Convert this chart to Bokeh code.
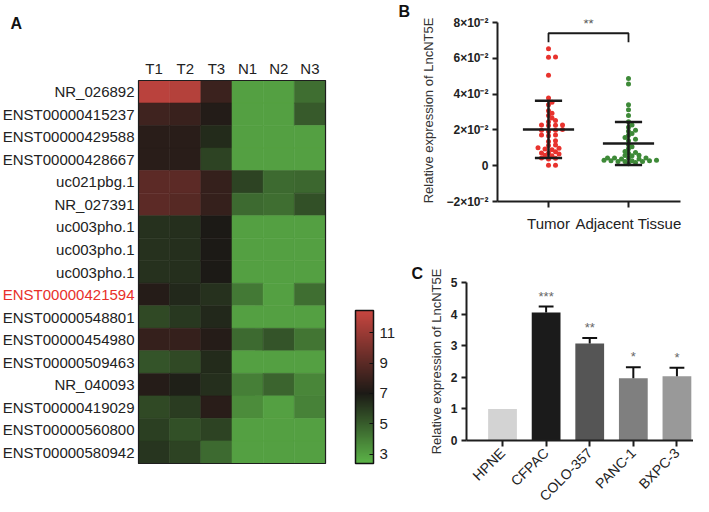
import numpy as np
from bokeh.plotting import figure
from bokeh.models import (Range1d, FixedTicker, LinearColorMapper, ColorBar, Label, ColumnDataSource)
from bokeh.layouts import row, column
from bokeh.embed import file_html
from bokeh.resources import INLINE
from bokeh.core.properties import value

FONT = "Liberation Sans"

# ---------------- Data: panel A (heatmap) ----------------
genes = ["NR_026892", "ENST00000415237", "ENST00000429588", "ENST00000428667",
         "uc021pbg.1", "NR_027391", "uc003pho.1", "uc003pho.1", "uc003pho.1",
         "ENST00000421594", "ENST00000548801", "ENST00000454980", "ENST00000509463",
         "NR_040093", "ENST00000419029", "ENST00000560800", "ENST00000580942"]
highlight_gene = "ENST00000421594"
samples = ["T1", "T2", "T3", "N1", "N2", "N3"]
t1 = [12.0, 8.1, 7.4, 7.4, 9.0, 9.0, 6.3, 6.3, 6.3, 7.3, 5.6, 7.8, 5.3, 7.3, 5.6, 5.9, 6.2]
t2 = [11.8, 7.9, 7.4, 7.4, 9.0, 8.8, 6.4, 6.4, 6.4, 6.6, 6.1, 7.8, 5.6, 6.8, 6.0, 5.4, 5.8]
t3 = [8.0, 7.2, 6.5, 5.8, 7.8, 7.8, 7.0, 7.0, 7.0, 6.3, 6.6, 7.3, 6.5, 6.4, 7.4, 5.8, 4.6]
n1 = [3.0, 3.0, 3.0, 3.0, 5.8, 4.6, 3.0, 3.0, 3.0, 4.2, 3.0, 4.6, 3.0, 4.0, 3.6, 3.0, 3.0]
n2 = [3.0, 3.0, 3.0, 3.0, 4.6, 4.5, 3.0, 3.0, 3.0, 3.0, 3.0, 5.3, 3.0, 4.8, 3.0, 3.0, 3.0]
n3 = [4.5, 5.1, 3.0, 3.0, 4.7, 5.4, 3.0, 3.0, 3.0, 4.5, 3.0, 4.3, 3.0, 3.8, 3.9, 3.0, 3.0]
cbar_ticks = [3, 5, 7, 9, 11]

# ---------------- Data: panel B (scatter) ----------------
groups_b = ["Tumor", "Adjacent Tissue"]
tumor = [0.0654, 0.0606, 0.0607, 0.0506, 0.0378, 0.0354, 0.0341, 0.0307, 0.0293,
         0.0280, 0.0267, 0.0246, 0.0252, 0.0226, 0.0228, 0.0224, 0.0228, 0.0198,
         0.0191, 0.0198, 0.0202, 0.0171, 0.0172, 0.0167, 0.0139, 0.0135, 0.0115,
         0.0113, 0.0100, 0.0093, 0.0098, 0.0089, 0.0078, 0.0071, 0.0071, 0.0065,
         0.0059, 0.0056, 0.0043, 0.0041, 0.0037, 0.0002, 0.0002]
adjacent = [0.0487, 0.0456, 0.0341, 0.0313, 0.0280, 0.0246, 0.0228, 0.0215, 0.0198,
            0.0193, 0.0180, 0.0170, 0.0157, 0.0148, 0.0139, 0.0117, 0.0106, 0.0094,
            0.0080, 0.0069, 0.0074, 0.0056, 0.0057, 0.0059, 0.0043, 0.0043, 0.0043,
            0.0043, 0.0037, 0.0037, 0.0028, 0.0028, 0.0031, 0.0031, 0.0028, 0.0024,
            0.0024, 0.0024, 0.0018, 0.0011]
b_ticks = [-0.02, 0.0, 0.02, 0.04, 0.06, 0.08]
b_tick_labels = ["\u22122\u00d710\u207b\u00b2", "0", "2\u00d710\u207b\u00b2",
                 "4\u00d710\u207b\u00b2", "6\u00d710\u207b\u00b2", "8\u00d710\u207b\u00b2"]
b_sig = "**"

# ---------------- Data: panel C (bars) ----------------
cells = ["HPNE", "CFPAC", "COLO-357", "PANC-1", "BXPC-3"]
expr = [1.0, 4.05, 3.07, 1.97, 2.03]
expr_err = [0.0, 0.19, 0.17, 0.35, 0.27]
stars = ["", "***", "**", "*", "*"]
c_ticks = [0, 1, 2, 3, 4, 5]

# ---------------- Styles ----------------
AX = "#1e1e1e"
TXT = "#222222"


def clean(p):
    p.grid.visible = False
    p.outline_line_color = None
    p.background_fill_color = "white"
    p.border_fill_color = "white"


def panel_letter_title(p, letter, offset, standoff):
    p.title.text = letter
    p.title.align = "left"
    p.title.offset = offset
    p.title.standoff = standoff
    p.title.text_font = FONT
    p.title.text_font_size = "16px"
    p.title.text_font_style = "bold"
    p.title.text_color = "#111111"


# ================= Panel A =================
AW, AH = 398, 496
cell_left, cell_top = 138, 80
px_col, px_row = 31.17, 22.53
nrow, ncol = len(genes), len(samples)
bottom_px = AH - cell_top - nrow * px_row

pA = figure(width=AW, height=AH, toolbar_location=None, output_backend="svg",
            x_range=Range1d(-cell_left / px_col, (AW - cell_left) / px_col),
            y_range=Range1d(-bottom_px / px_row, nrow + cell_top / px_row),
            x_axis_type=None, y_axis_type=None,
            min_border_left=0, min_border_right=0, min_border_top=0, min_border_bottom=0)
clean(pA)

anchors_v = [2.4, 7.0, 12.45]
anchors_c = np.array([[92, 180, 72], [28, 26, 22], [200, 70, 64]], dtype=float)
lv = np.linspace(anchors_v[0], anchors_v[-1], 256)
pal = []
for v in lv:
    rgb = [np.interp(v, anchors_v, anchors_c[:, k]) for k in range(3)]
    pal.append("#%02x%02x%02x" % tuple(int(round(c)) for c in rgb))
mapper = LinearColorMapper(palette=pal, low=anchors_v[0], high=anchors_v[-1])

cols = [t1, t2, t3, n1, n2, n3]
xs, ys, vs = [], [], []
for ci, col in enumerate(cols):
    for ri, v in enumerate(col):
        xs.append(ci + 0.5)
        ys.append(nrow - ri - 0.5)
        vs.append(v)
src = ColumnDataSource(dict(x=xs, y=ys, v=vs))
pA.rect(x="x", y="y", width=1, height=1, source=src,
        fill_color={"field": "v", "transform": mapper},
        line_color={"field": "v", "transform": mapper}, line_width=0.6)
pA.rect(x=[ncol / 2], y=[nrow / 2], width=ncol, height=nrow, fill_color=None,
        line_color=AX, line_width=1.2)

label_colors = ["#e8302a" if g == highlight_gene else TXT for g in genes]
pA.text(x=[0] * nrow, y=[nrow - i - 0.5 for i in range(nrow)], text=genes,
        x_offset=-4, text_align="right", text_baseline="middle",
        text_color=label_colors, text_font=value(FONT), text_font_size="15px")
pA.text(x=[i + 0.5 for i in range(ncol)], y=[nrow] * ncol, text=samples,
        y_offset=-4, text_align="center", text_baseline="bottom",
        text_color=TXT, text_font=value(FONT), text_font_size="15px")

cb = ColorBar(color_mapper=mapper, ticker=FixedTicker(ticks=cbar_ticks),
              width=18, height=153, location=(355, 33), padding=0, margin=0,
              bar_line_color="#111111", bar_line_width=1.5,
              major_tick_line_color="#111111", major_tick_in=4, major_tick_out=0,
              minor_tick_line_color=None,
              major_label_text_font_size="15px", major_label_text_font=FONT,
              major_label_text_color=TXT, label_standoff=6,
              background_fill_alpha=0, border_line_color=None)
pA.add_layout(cb)
pA.add_layout(Label(x=10, y=AH - 14, x_units="screen", y_units="screen", text="A",
                    text_font=FONT, text_font_style="bold", text_font_size="16px",
                    text_baseline="top", text_color="#111111"))


def style_axes(p):
    for ax in (p.xaxis[0], p.yaxis[0]):
        ax.axis_line_color = AX
        ax.axis_line_width = 2
        ax.major_tick_line_color = AX
        ax.major_tick_line_width = 2
        ax.major_tick_in = 0
        ax.major_tick_out = 5
        ax.minor_tick_line_color = None
        ax.major_label_text_font = FONT
        ax.major_label_text_color = TXT
        ax.axis_label_text_font = FONT
        ax.axis_label_text_font_style = "normal"
        ax.axis_label_text_color = "#333333"
        ax.axis_label_text_font_size = "13px"
        ax.major_label_standoff = 4


RW = 693 - AW  # right column width

# ================= Panel B =================
BH = 250
bl, br_, bt, bb = 99, 13, 19, 49
px_by = 1790.0
b_top = b_ticks[-1] + 3 / px_by
pB = figure(frame_width=RW - bl - br_, frame_height=BH - bt - bb,
            toolbar_location=None, output_backend="svg",
            x_range=Range1d(-0.6375, 1.65), y_range=Range1d(b_ticks[0], b_top),
            min_border_left=bl, min_border_right=br_, min_border_top=bt, min_border_bottom=bb)
clean(pB)
style_axes(pB)
panel_letter_title(pB, "B", -bl, 0)
px_bx = (RW - bl - br_) / (1.65 + 0.6375)
pB.xaxis.ticker = FixedTicker(ticks=[0, 1])
pB.xaxis.major_label_overrides = {0: groups_b[0], 1: groups_b[1]}
pB.xaxis.major_label_text_font_size = "15px"
pB.xaxis.major_tick_out = 6
pB.xaxis.major_label_standoff = 7
pB.yaxis.ticker = FixedTicker(ticks=b_ticks)
pB.yaxis.major_label_overrides = dict(zip(b_ticks, b_tick_labels))
pB.yaxis.major_label_text_font_size = "12px"
pB.yaxis.major_label_text_font_style = "bold"
pB.yaxis.bounds = (b_ticks[0], b_ticks[-1])
pB.yaxis.axis_label = "Relative expression of LncNT5E"
pB.yaxis.axis_label_standoff = 7


def swarm(vals, step_px=3.5, min_dist=3.9):
    vals = np.asarray(vals)
    order = np.argsort(vals)
    placed = []
    offs = np.zeros(len(vals))
    cands = [0] + [s * j for j in range(1, 40) for s in (1, -1)]
    for i in order:
        y = vals[i] * px_by
        xo = 0.0
        for c in cands:
            xo = c * step_px
            if all((xo - a) ** 2 + (y - b) ** 2 >= min_dist ** 2 for a, b in placed):
                break
        placed.append((xo, y))
        offs[i] = xo
    return offs / px_bx


for gi, (vals, color) in enumerate([(tumor, "#e8332e"), (adjacent, "#3e8a38")]):
    xo = swarm(vals)
    pB.scatter(x=gi + xo, y=vals, size=5, fill_color=color, line_color=None)
    m = float(np.mean(vals))
    sd = float(np.std(vals, ddof=1))
    lo = max(m - sd, 0)
    pB.segment(x0=[gi - 0.32, gi - 0.17, gi - 0.17, gi], y0=[m, m + sd, lo, lo],
               x1=[gi + 0.32, gi + 0.17, gi + 0.17, gi], y1=[m, m + sd, lo, m + sd],
               line_color="#1a1a1a", line_width=2.5)

br_hi = 0.074
br_lo = 0.069
pB.line(x=[0, 0, 1, 1], y=[br_lo, br_hi, br_hi, br_lo], line_color="#1a1a1a", line_width=1.8)
pB.text(x=[0.5], y=[br_hi], text=[b_sig], y_offset=-2, text_align="center",
        text_baseline="bottom", text_color="#555555", text_font=value(FONT),
        text_font_size="13px")

# ================= Panel C =================
CH = 496 - BH
cl, cr, ct, cb_ = 68, 0, 32, 56
pC = figure(frame_width=RW - cl - cr, frame_height=CH - ct - cb_,
            toolbar_location=None, output_backend="svg",
            x_range=Range1d(-0.826, 4.38), y_range=Range1d(0, 5),
            min_border_left=cl, min_border_right=cr, min_border_top=ct, min_border_bottom=cb_)
clean(pC)
style_axes(pC)
panel_letter_title(pC, "C", 13 - cl, 1)
xi = list(range(len(cells)))
bar_colors = ["#d3d3d3", "#1b1b1b", "#555555", "#7f7f7f", "#999999"]
pC.vbar(x=xi, top=expr, width=0.66, fill_color=bar_colors, line_color=None)
ex = [i for i in xi if expr_err[i] > 0]
tops = [expr[i] + expr_err[i] for i in ex]
pC.segment(x0=ex, y0=[expr[i] for i in ex], x1=ex, y1=tops, line_color="#111111", line_width=2)
pC.segment(x0=[i - 0.17 for i in ex], y0=tops, x1=[i + 0.17 for i in ex], y1=tops,
           line_color="#111111", line_width=2)
star_y = [expr[i] + expr_err[i] for i in xi]
pC.text(x=xi, y=star_y, text=stars, y_offset=-3, text_align="center", text_baseline="bottom",
        text_color="#666666", text_font=value(FONT), text_font_size="13px")
pC.xaxis.ticker = FixedTicker(ticks=xi)
pC.xaxis.major_label_overrides = dict(zip(xi, cells))
pC.xaxis.major_label_orientation = np.pi / 4
pC.xaxis.major_label_text_font_size = "14px"
pC.xaxis.major_tick_out = 6
pC.yaxis.ticker = FixedTicker(ticks=c_ticks)
pC.yaxis.major_label_text_font_size = "12px"
pC.yaxis.major_label_text_font_style = "bold"
pC.yaxis.axis_label = "Relative expression of LncNT5E"
pC.yaxis.axis_label_standoff = 4

layout = row(pA, column(row(pB), row(pC)))
open("out.html", "w").write(file_html(layout, INLINE))
